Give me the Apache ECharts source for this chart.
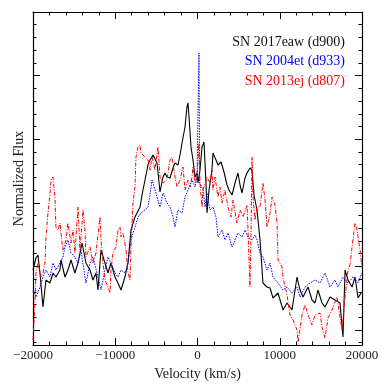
<!DOCTYPE html>
<html><head><meta charset="utf-8">
<script src="https://cdn.jsdelivr.net/npm/echarts@6/dist/echarts.min.js"></script>
<style>html,body{margin:0;padding:0;background:#fff}#c{width:390px;height:390px}</style>
</head><body><div id="c"></div>
<script>
// ---- data (velocity in km/s, normalized flux with arbitrary offset) ----
const seriesNames = ['SN 2017eaw (d900)', 'SN 2004et (d933)', 'SN 2013ej (d807)'];
const xTickValues = [-20000, -10000, 0, 10000, 20000];

const vel17eaw = [-20000,-19640,-19400,-19150,-18790,-18420,-17940,-17570,-17210,-16720,-16600,-16110,-15750,-15380,-14900,-14530,-14040,-13560,-13070,-12710,-12340,-12100,-11730,-11250,-10880,-10520,-10030,-9670,-9300,-8820,-8450,-8090,-7600,-6990,-6630,-6380,-6020,-5780,-5410,-5170,-4920,-4560,-4200,-3950,-3710,-3340,-2980,-2740,-2370,-2130,-1880,-1520,-1280,-1160,-1030,-790,-550,-300,-60,60,300,550,790,1030,1160,1400,1760,1880,2250,2490,2860,3220,3590,3830,4200,4560,4920,5170,5410,5780,6020,6380,6630,6870,7240,7600,7960,8450,8820,9180,9790,10400,10880,11490,12100,12460,12830,13440,13920,14290,14650,15140,15500,16110,16720,17330,17690,17940,18300,18790,19150,19520,19880];
const flux17eaw = [0.75,0.87,0.90,0.72,0.38,0.65,0.62,0.72,0.68,0.75,0.85,0.68,0.75,0.85,0.72,0.82,1.02,0.82,0.75,0.65,0.72,0.55,0.95,0.82,0.72,0.82,0.68,0.62,0.55,0.68,0.82,1.15,1.28,1.38,1.55,1.65,1.80,1.85,1.90,1.88,1.82,1.53,1.68,1.72,1.68,1.67,1.77,1.82,1.80,1.90,2.02,2.18,2.38,2.42,2.28,1.98,1.85,1.68,1.72,1.62,1.75,1.98,2.03,1.62,1.32,1.55,1.75,1.92,1.85,1.80,1.83,1.73,1.60,1.55,1.50,1.62,1.72,1.60,1.52,1.67,1.72,1.77,1.75,1.50,1.35,1.05,0.62,0.58,0.57,0.47,0.52,0.35,0.42,0.35,0.68,0.55,0.48,0.58,0.45,0.42,0.55,0.42,0.38,0.48,0.45,0.42,0.08,0.75,0.65,0.58,0.68,0.47,0.52];

const vel04et = [-20000,-19640,-19150,-18790,-18420,-17940,-17570,-17210,-16720,-16360,-16110,-15750,-15380,-14900,-14530,-14170,-13680,-13560,-13070,-12710,-12100,-11730,-11250,-10880,-10520,-10030,-9670,-9300,-8820,-8450,-8090,-7600,-7240,-6870,-6380,-6020,-5780,-5530,-5410,-4920,-4560,-4200,-3710,-3340,-2980,-2740,-2370,-1880,-1520,-1160,-670,-300,-60,100,180,260,430,670,910,1160,1520,1880,2250,2490,2980,3340,3710,4200,4560,4920,5410,5780,6140,6630,6990,7240,7600,7960,8450,8820,9180,9790,10400,10880,11490,12100,12460,13070,13680,14290,14900,15500,16110,16720,17080,17690,18300,18910,19520,20000];
const flux04et = [0.55,0.48,0.58,0.68,0.75,0.68,0.82,0.75,0.82,0.88,0.98,1.05,0.92,0.88,0.82,0.95,0.68,0.62,0.82,0.88,0.68,0.55,0.75,0.88,0.82,0.72,0.68,0.75,0.72,0.82,1.05,1.18,1.28,1.32,1.35,1.38,1.50,1.65,1.62,1.48,1.38,1.52,1.42,1.38,1.28,1.18,1.35,1.32,1.48,1.55,1.65,1.58,1.68,1.66,2.92,1.62,1.60,1.55,1.38,1.52,1.35,1.38,1.28,1.08,1.15,1.05,1.12,0.98,1.05,1.12,1.08,1.15,1.08,1.05,1.10,1.05,0.92,0.88,0.75,0.82,0.68,0.62,0.55,0.58,0.52,0.58,0.48,0.58,0.62,0.65,0.62,0.72,0.58,0.65,0.58,0.68,0.62,0.68,0.62,0.72];

const vel13ej = [-20000,-19760,-19640,-19400,-19030,-18790,-18540,-18420,-18180,-17940,-17810,-17570,-17330,-17210,-16960,-16720,-16600,-16360,-15990,-15750,-15380,-15140,-14900,-14530,-14290,-13920,-13680,-13560,-13070,-12710,-12340,-11860,-11730,-11490,-11250,-10880,-10640,-10520,-10280,-9910,-9670,-9420,-9300,-9060,-8690,-8450,-8210,-8090,-7840,-7600,-7480,-7240,-6990,-6870,-6630,-6380,-6020,-5780,-5530,-5170,-4800,-4560,-4200,-3710,-3340,-3100,-2740,-2490,-2130,-1760,-1520,-1160,-910,-670,-550,-300,-60,60,180,300,550,670,1160,1520,1760,1880,2130,2490,2740,2980,3340,3710,4070,4320,4800,5170,5530,6020,6140,6380,6510,6630,6750,6990,7240,7600,7960,8210,8450,8820,9060,9420,9670,9790,10280,10400,10880,11250,11610,12100,12220,12710,13070,13440,13920,14290,14900,15140,15500,15870,16360,16960,17330,17570,17940,18300,18540,18790,19150,19400,19760,20000];
const flux13ej = [0.05,0.42,0.72,0.82,0.68,0.72,0.82,1.08,1.32,1.50,1.65,1.68,1.48,1.18,1.15,1.22,1.12,0.95,1.05,1.22,1.02,1.15,0.92,1.38,0.95,1.35,1.15,0.88,0.98,0.82,0.92,1.28,1.05,0.82,0.65,0.58,0.52,0.75,0.92,0.98,1.15,1.18,1.08,1.12,0.95,0.72,0.65,0.98,1.42,1.58,1.88,1.98,2.00,1.92,1.92,1.88,1.85,1.75,1.88,1.75,1.98,1.68,1.62,1.65,1.85,1.88,1.68,1.58,1.65,1.78,1.55,1.65,1.58,1.68,1.78,1.62,1.68,1.85,2.02,1.62,1.38,1.55,1.68,1.62,1.75,1.55,1.68,1.48,1.58,1.42,1.55,1.38,1.28,1.45,1.22,1.35,1.28,1.40,1.15,0.58,1.12,1.88,1.48,1.25,1.38,1.38,1.62,1.45,1.18,1.32,1.48,1.40,1.22,0.85,0.78,0.67,0.50,0.30,0.25,0.15,0.03,0.30,0.40,0.30,0.20,0.30,0.32,0.18,0.07,0.27,0.35,0.48,0.28,0.15,0.48,0.75,0.80,0.98,1.22,1.15,0.95,0.77];

// ---- chart ----
const serif = "'Liberation Serif','DejaVu Serif',serif";
const zip = (v, f) => v.map((x, i) => [x, f[i]]);
const black = '#000';

function tickAxis(position, interval, len, showLine) {
  return {
    type: 'value', position: position, inverse: true, min: 0, max: 5.236, interval: interval,
    axisLine: { show: showLine, onZero: false, lineStyle: { color: black, width: 1.2 } },
    axisTick: { show: true, inside: true, length: len, lineStyle: { color: black, width: 1 } },
    axisLabel: { show: false }, splitLine: { show: false }
  };
}
function xAx(position, showLabel) {
  return {
    type: 'value', position: position, min: -20000, max: 20000, interval: 10000,
    axisLine: { show: true, onZero: false, lineStyle: { color: black, width: 1.2 } },
    axisTick: { show: true, inside: true, length: 7, lineStyle: { color: black, width: 1 } },
    minorTick: { show: true, splitNumber: 5, length: 3.5, lineStyle: { color: black, width: 1 } },
    splitLine: { show: false }, minorSplitLine: { show: false },
    axisLabel: {
      show: showLabel, margin: 4, color: '#222', fontFamily: serif, fontSize: 13,
      showMinLabel: true, showMaxLabel: true, hideOverlap: false,
      customValues: xTickValues,
      formatter: v => v < 0 ? '\u2212' + Math.abs(v) : String(v)
    },
    name: showLabel ? 'Velocity (km/s)' : '', nameLocation: 'middle', nameGap: 16,
    nameTextStyle: { fontFamily: serif, fontSize: 14, color: '#222' }
  };
}

const chart = echarts.init(document.getElementById('c'), null, { renderer: 'canvas' });
chart.setOption({
  animation: false,
  backgroundColor: '#fff',
  grid: { left: 33, right: 28, top: 12, bottom: 45 },
  xAxis: [xAx('bottom', true), xAx('top', false)],
  yAxis: [
    {
      type: 'value', position: 'left', min: 0, max: 3.33,
      axisLine: { show: true, onZero: false, lineStyle: { color: black, width: 1.2 } },
      axisTick: { show: false }, axisLabel: { show: false }, splitLine: { show: false },
      name: 'Normalized Flux', nameLocation: 'middle', nameGap: 7,
      nameTextStyle: { fontFamily: serif, fontSize: 14, color: '#222' }
    },
    tickAxis('left', 1, 7, false),
    tickAxis('left', 0.2, 3.5, false),
    tickAxis('right', 1, 7, true),
    tickAxis('right', 0.2, 3.5, false)
  ],
  series: [
    { name: seriesNames[0], type: 'line', data: zip(vel17eaw, flux17eaw), showSymbol: false,
      lineStyle: { color: '#000', width: 1.1 }, z: 3 },
    { name: seriesNames[1], type: 'line', data: zip(vel04et, flux04et), showSymbol: false,
      lineStyle: { color: '#0000ff', width: 1, type: [1.5, 1.2] }, z: 4 },
    { name: seriesNames[2], type: 'line', data: zip(vel13ej, flux13ej), showSymbol: false,
      lineStyle: { color: '#ff0000', width: 1, type: [4, 1.5, 1, 1.5] }, z: 5 }
  ],
  graphic: [
    { type: 'text', right: 45, top: 35, style: { text: seriesNames[0], fill: '#111', fontFamily: serif, fontSize: 14 } },
    { type: 'text', right: 45, top: 54, style: { text: seriesNames[1], fill: '#0000ff', fontFamily: serif, fontSize: 14 } },
    { type: 'text', right: 45, top: 74, style: { text: seriesNames[2], fill: '#ff0000', fontFamily: serif, fontSize: 14 } }
  ]
});
</script>
</body></html>
